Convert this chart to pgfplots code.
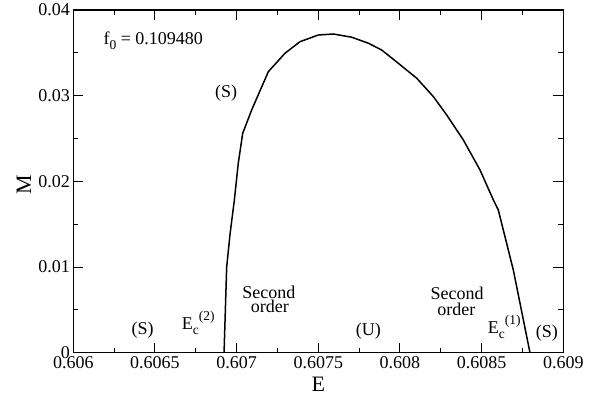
\documentclass[border=0pt]{standalone}
\usepackage{fontspec}
\setmainfont{Liberation Serif}
\usepackage{pgfplots}
\pgfplotsset{compat=1.18}
\newcommand{\sm}{\fontsize{13.5bp}{14bp}\selectfont}
\newcommand{\Ec}[1]{E\raisebox{-5bp}{\sm c}\raisebox{9bp}{\sm (#1)}}
\begin{document}
\begin{tikzpicture}[font=\fontsize{18bp}{21bp}\selectfont]
\useasboundingbox (-73.3bp,-46.3bp) rectangle (531.7bp,352.7bp);
\begin{axis}[
  at={(0,0)}, anchor=south west,
  scale only axis, width=490bp, height=342.7bp,
  xmin=0.606, xmax=0.609, ymin=0, ymax=0.04,
  xtick={0.606,0.6065,0.607,0.6075,0.608,0.6085,0.609},
  xticklabels={0.606,0.6065,0.607,0.6075,0.608,0.6085,0.609},
  ytick={0,0.01,0.02,0.03,0.04},
  yticklabels={0,0.01,0.02,0.03,0.04},
  minor x tick num=1, minor y tick num=1,
  major tick length=10bp, minor tick length=5bp,
  tick align=inside,
  axis line style={line width=1.2bp},
  every tick/.style={black, line width=1bp},
  xlabel={E}, ylabel={M},
  every axis x label/.style={at={(axis description cs:0.5,-0.0913)},anchor=center,font=\fontsize{22bp}{24bp}\selectfont},
  every axis y label/.style={at={(axis description cs:-0.1006,0.489)},anchor=center,rotate=90,font=\fontsize{22bp}{24bp}\selectfont},
  clip=false,
]
\addplot[black, line width=1.5bp] coordinates {
(0.606,0) (0.609,0)
};
\addplot[black, line width=1.5bp] coordinates {
(0.606923,0) (0.606939,0.0100) (0.60696,0.0139) (0.606986,0.0178) (0.60701,0.0221)
(0.607037,0.0256) (0.607092,0.02833) (0.607194,0.0328) (0.607296,0.03495)
(0.607388,0.0363) (0.6075,0.03708) (0.607592,0.0372) (0.607705,0.03682)
(0.607807,0.03612) (0.607888,0.03533) (0.60799,0.03378) (0.608103,0.03203)
(0.608205,0.02988) (0.608286,0.02775) (0.608388,0.02483) (0.60849,0.02133)
(0.608572,0.01782) (0.608602,0.01666) (0.608694,0.00965) (0.608796,0)
};
\node[anchor=base west] at (axis cs:0.606164,0.03592) {f\raisebox{-5bp}{\sm 0} = 0.109480};
\node[anchor=base] at (axis cs:0.606935,0.02981) {(S)};
\node[anchor=base] at (axis cs:0.606425,0.00207) {(S)};
\node[anchor=base west] at (axis cs:0.606643,0.00265) {\Ec{2}};
\node[anchor=base] at (axis cs:0.607197,0.00635) {Second};
\node[anchor=base] at (axis cs:0.607204,0.00475) {order};
\node[anchor=base] at (axis cs:0.607806,0.00195) {(U)};
\node[anchor=base] at (axis cs:0.60835,0.00624) {Second};
\node[anchor=base] at (axis cs:0.608345,0.0044) {order};
\node[anchor=base west] at (axis cs:0.608517,0.00226) {\Ec{1}};
\node[anchor=base] at (axis cs:0.608899,0.0018) {(S)};
\end{axis}
\end{tikzpicture}
\end{document}
